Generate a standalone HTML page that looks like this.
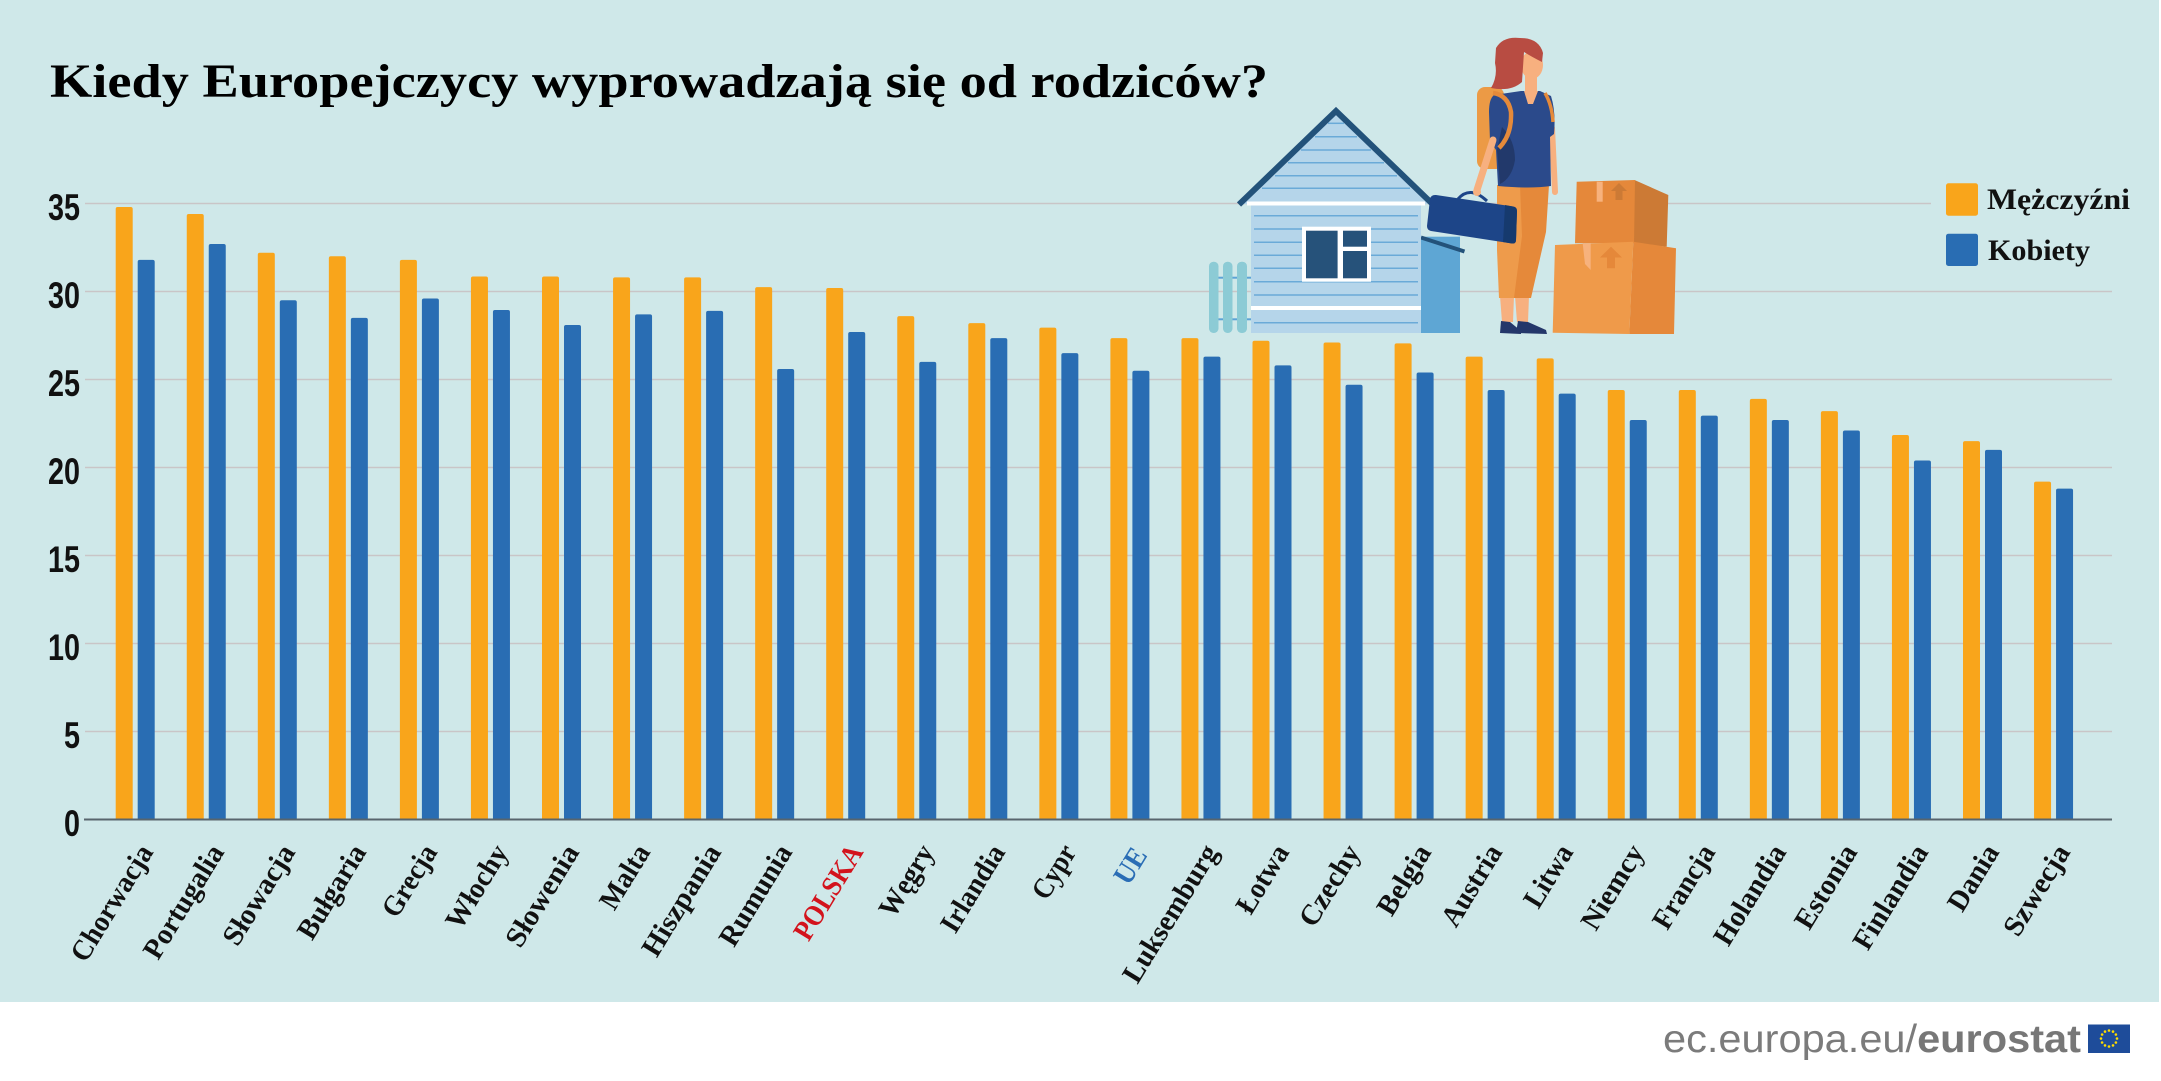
<!DOCTYPE html>
<html><head><meta charset="utf-8"><style>
html,body{margin:0;padding:0;background:#fff;}
svg{display:block;}
</style></head><body>
<svg width="2161" height="1081" viewBox="0 0 2161 1081" xmlns="http://www.w3.org/2000/svg">
<rect width="2161" height="1081" fill="#ffffff"/>
<rect x="0" y="0" width="2159" height="1002" fill="#cfe8e9"/>

<!-- gridlines -->
<g stroke="#c9c5c7" stroke-width="1.5">
<line x1="85" y1="203.5" x2="1931" y2="203.5"/>
<line x1="85" y1="291.5" x2="2112" y2="291.5"/>
<line x1="85" y1="379.5" x2="2112" y2="379.5"/>
<line x1="85" y1="467.5" x2="2112" y2="467.5"/>
<line x1="85" y1="555.5" x2="2112" y2="555.5"/>
<line x1="85" y1="643.5" x2="2112" y2="643.5"/>
<line x1="85" y1="731.5" x2="2112" y2="731.5"/>
</g>

<!-- y tick labels -->
<g font-family="Liberation Sans, Arial, sans-serif" font-weight="bold" font-size="37" fill="#111" text-anchor="end">
<text x="80" y="220" textLength="32" lengthAdjust="spacingAndGlyphs">35</text>
<text x="80" y="308" textLength="32" lengthAdjust="spacingAndGlyphs">30</text>
<text x="80" y="396" textLength="32" lengthAdjust="spacingAndGlyphs">25</text>
<text x="80" y="484" textLength="32" lengthAdjust="spacingAndGlyphs">20</text>
<text x="80" y="572" textLength="32" lengthAdjust="spacingAndGlyphs">15</text>
<text x="80" y="660" textLength="32" lengthAdjust="spacingAndGlyphs">10</text>
<text x="80" y="748" textLength="16" lengthAdjust="spacingAndGlyphs">5</text>
<text x="80" y="836" textLength="16" lengthAdjust="spacingAndGlyphs">0</text>
</g>

<!-- bars: orange (men) -->
<g fill="#f9a51b">
<rect x="115.7" y="207.02" width="17" height="615.98" rx="2"/>
<rect x="186.75" y="214.06" width="17" height="608.94" rx="2"/>
<rect x="257.8" y="252.78" width="17" height="570.22" rx="2"/>
<rect x="328.85" y="256.3" width="17" height="566.7" rx="2"/>
<rect x="399.9" y="259.82" width="17" height="563.18" rx="2"/>
<rect x="470.95" y="276.54" width="17" height="546.46" rx="2"/>
<rect x="542" y="276.54" width="17" height="546.46" rx="2"/>
<rect x="613.05" y="277.42" width="17" height="545.58" rx="2"/>
<rect x="684.1" y="277.42" width="17" height="545.58" rx="2"/>
<rect x="755.15" y="287.1" width="17" height="535.9" rx="2"/>
<rect x="826.2" y="287.98" width="17" height="535.02" rx="2"/>
<rect x="897.25" y="316.14" width="17" height="506.86" rx="2"/>
<rect x="968.3" y="323.18" width="17" height="499.82" rx="2"/>
<rect x="1039.35" y="327.58" width="17" height="495.42" rx="2"/>
<rect x="1110.4" y="338.14" width="17" height="484.86" rx="2"/>
<rect x="1181.45" y="338.14" width="17" height="484.86" rx="2"/>
<rect x="1252.5" y="340.78" width="17" height="482.22" rx="2"/>
<rect x="1323.55" y="342.54" width="17" height="480.46" rx="2"/>
<rect x="1394.6" y="343.42" width="17" height="479.58" rx="2"/>
<rect x="1465.65" y="356.62" width="17" height="466.38" rx="2"/>
<rect x="1536.7" y="358.38" width="17" height="464.62" rx="2"/>
<rect x="1607.75" y="390.06" width="17" height="432.94" rx="2"/>
<rect x="1678.8" y="390.06" width="17" height="432.94" rx="2"/>
<rect x="1749.85" y="398.86" width="17" height="424.14" rx="2"/>
<rect x="1820.9" y="411.18" width="17" height="411.82" rx="2"/>
<rect x="1891.95" y="434.94" width="17" height="388.06" rx="2"/>
<rect x="1963" y="441.1" width="17" height="381.9" rx="2"/>
<rect x="2034.05" y="481.58" width="17" height="341.42" rx="2"/>
</g>
<!-- bars: blue (women) -->
<g fill="#296db3">
<rect x="137.7" y="259.82" width="17" height="563.18" rx="2"/>
<rect x="208.75" y="243.98" width="17" height="579.02" rx="2"/>
<rect x="279.8" y="300.3" width="17" height="522.7" rx="2"/>
<rect x="350.85" y="317.9" width="17" height="505.1" rx="2"/>
<rect x="421.9" y="298.54" width="17" height="524.46" rx="2"/>
<rect x="492.95" y="309.98" width="17" height="513.02" rx="2"/>
<rect x="564" y="324.94" width="17" height="498.06" rx="2"/>
<rect x="635.05" y="314.38" width="17" height="508.62" rx="2"/>
<rect x="706.1" y="310.86" width="17" height="512.14" rx="2"/>
<rect x="777.15" y="368.94" width="17" height="454.06" rx="2"/>
<rect x="848.2" y="331.98" width="17" height="491.02" rx="2"/>
<rect x="919.25" y="361.9" width="17" height="461.1" rx="2"/>
<rect x="990.3" y="338.14" width="17" height="484.86" rx="2"/>
<rect x="1061.35" y="353.1" width="17" height="469.9" rx="2"/>
<rect x="1132.4" y="370.7" width="17" height="452.3" rx="2"/>
<rect x="1203.45" y="356.62" width="17" height="466.38" rx="2"/>
<rect x="1274.5" y="365.42" width="17" height="457.58" rx="2"/>
<rect x="1345.55" y="384.78" width="17" height="438.22" rx="2"/>
<rect x="1416.6" y="372.46" width="17" height="450.54" rx="2"/>
<rect x="1487.65" y="390.06" width="17" height="432.94" rx="2"/>
<rect x="1558.7" y="393.58" width="17" height="429.42" rx="2"/>
<rect x="1629.75" y="419.98" width="17" height="403.02" rx="2"/>
<rect x="1700.8" y="415.58" width="17" height="407.42" rx="2"/>
<rect x="1771.85" y="419.98" width="17" height="403.02" rx="2"/>
<rect x="1842.9" y="430.54" width="17" height="392.46" rx="2"/>
<rect x="1913.95" y="460.46" width="17" height="362.54" rx="2"/>
<rect x="1985" y="449.9" width="17" height="373.1" rx="2"/>
<rect x="2056.05" y="488.62" width="17" height="334.38" rx="2"/>
</g>

<!-- cover bar bottoms (not touching tick labels) -->
<rect x="84" y="820.5" width="2040" height="5" fill="#cfe8e9"/>
<!-- baseline -->
<line x1="84" y1="819.5" x2="2112" y2="819.5" stroke="#58656d" stroke-width="2"/>

<!-- category labels -->
<g font-family="Liberation Serif, DejaVu Serif, serif" font-weight="bold" font-size="29" fill="#111" text-anchor="end">
<text transform="translate(154,852) rotate(-58.5)" textLength="131" lengthAdjust="spacingAndGlyphs">Chorwacja</text>
<text transform="translate(225,852) rotate(-58.5)" textLength="128" lengthAdjust="spacingAndGlyphs">Portugalia</text>
<text transform="translate(296,852) rotate(-58.5)" textLength="112" lengthAdjust="spacingAndGlyphs">Słowacja</text>
<text transform="translate(367,852) rotate(-58.5)" textLength="105" lengthAdjust="spacingAndGlyphs">Bułgaria</text>
<text transform="translate(438,852) rotate(-58.5)" textLength="79" lengthAdjust="spacingAndGlyphs">Grecja</text>
<text transform="translate(509,852) rotate(-58.5)" textLength="93" lengthAdjust="spacingAndGlyphs">Włochy</text>
<text transform="translate(580,852) rotate(-58.5)" textLength="114" lengthAdjust="spacingAndGlyphs">Słowenia</text>
<text transform="translate(651,852) rotate(-58.5)" textLength="70" lengthAdjust="spacingAndGlyphs">Malta</text>
<text transform="translate(722,852) rotate(-58.5)" textLength="125" lengthAdjust="spacingAndGlyphs">Hiszpania</text>
<text transform="translate(793,852) rotate(-58.5)" textLength="113" lengthAdjust="spacingAndGlyphs">Rumunia</text>
<text transform="translate(864,852) rotate(-58.5)" textLength="106" lengthAdjust="spacingAndGlyphs" fill="#d3131c">POLSKA</text>
<text transform="translate(935,852) rotate(-58.5)" textLength="79" lengthAdjust="spacingAndGlyphs">Węgry</text>
<text transform="translate(1006,852) rotate(-58.5)" textLength="97" lengthAdjust="spacingAndGlyphs">Irlandia</text>
<text transform="translate(1077,852) rotate(-58.5)" textLength="58" lengthAdjust="spacingAndGlyphs">Cypr</text>
<text transform="translate(1148,855) rotate(-58.5)" textLength="37" lengthAdjust="spacingAndGlyphs" fill="#2a6db5">UE</text>
<text transform="translate(1219,852) rotate(-58.5)" textLength="156" lengthAdjust="spacingAndGlyphs">Luksemburg</text>
<text transform="translate(1290,852) rotate(-58.5)" textLength="75" lengthAdjust="spacingAndGlyphs">Łotwa</text>
<text transform="translate(1361,852) rotate(-58.5)" textLength="90" lengthAdjust="spacingAndGlyphs">Czechy</text>
<text transform="translate(1432,852) rotate(-58.5)" textLength="77" lengthAdjust="spacingAndGlyphs">Belgia</text>
<text transform="translate(1503,852) rotate(-58.5)" textLength="90" lengthAdjust="spacingAndGlyphs">Austria</text>
<text transform="translate(1574,852) rotate(-58.5)" textLength="68" lengthAdjust="spacingAndGlyphs">Litwa</text>
<text transform="translate(1645,852) rotate(-58.5)" textLength="94" lengthAdjust="spacingAndGlyphs">Niemcy</text>
<text transform="translate(1716,852) rotate(-58.5)" textLength="93" lengthAdjust="spacingAndGlyphs">Francja</text>
<text transform="translate(1787,852) rotate(-58.5)" textLength="112" lengthAdjust="spacingAndGlyphs">Holandia</text>
<text transform="translate(1858,852) rotate(-58.5)" textLength="93" lengthAdjust="spacingAndGlyphs">Estonia</text>
<text transform="translate(1929,852) rotate(-58.5)" textLength="117" lengthAdjust="spacingAndGlyphs">Finlandia</text>
<text transform="translate(2000,852) rotate(-58.5)" textLength="72" lengthAdjust="spacingAndGlyphs">Dania</text>
<text transform="translate(2071,852) rotate(-58.5)" textLength="101" lengthAdjust="spacingAndGlyphs">Szwecja</text>
</g>

<!-- title -->
<text x="50" y="97" font-family="Liberation Serif, DejaVu Serif, serif" font-weight="bold" font-size="48" fill="#000" textLength="1218" lengthAdjust="spacingAndGlyphs">Kiedy Europejczycy wyprowadzają się od rodziców?</text>

<!-- ===== illustration: house ===== -->
<g>
  <g fill="#8ccbd5">
    <rect x="1209" y="261.7" width="9.5" height="71.3" rx="4.5"/>
    <rect x="1223" y="261.7" width="9.5" height="71.3" rx="4.5"/>
    <rect x="1237" y="261.7" width="10" height="71.3" rx="4.5"/>
  </g>
  <g stroke="#5da3d6" stroke-width="2">
    <line x1="1218.5" y1="277.7" x2="1223" y2="277.7"/>
    <line x1="1232.5" y1="277.7" x2="1237" y2="277.7"/>
    <line x1="1247" y1="277.7" x2="1251" y2="277.7"/>
    <line x1="1218.5" y1="319.3" x2="1223" y2="319.3"/>
    <line x1="1232.5" y1="319.3" x2="1237" y2="319.3"/>
    <line x1="1247" y1="319.3" x2="1251" y2="319.3"/>
  </g>
  <rect x="1421" y="236.7" width="39" height="96.3" fill="#5ea6d4"/>
  <line x1="1421" y1="237.5" x2="1464.5" y2="251.5" stroke="#23527a" stroke-width="4"/>
  <polygon points="1336,114 1243,204 1429,204" fill="#b5d5ea"/>
  <rect x="1251" y="204" width="170" height="129" fill="#b5d5ea"/>
  <g stroke="#6aaad8" stroke-width="1.5">
    <line x1="1328" y1="123.3" x2="1344" y2="123.3"/>
    <line x1="1315" y1="136.7" x2="1357" y2="136.7"/>
    <line x1="1301" y1="150" x2="1371" y2="150"/>
    <line x1="1288" y1="162.7" x2="1384" y2="162.7"/>
    <line x1="1275" y1="175.7" x2="1397" y2="175.7"/>
    <line x1="1262" y1="188.3" x2="1410" y2="188.3"/>
    <line x1="1254" y1="215.7" x2="1418" y2="215.7"/>
    <line x1="1254" y1="229" x2="1418" y2="229"/>
    <line x1="1254" y1="242.3" x2="1418" y2="242.3"/>
    <line x1="1254" y1="255.3" x2="1418" y2="255.3"/>
    <line x1="1254" y1="268.3" x2="1418" y2="268.3"/>
    <line x1="1254" y1="281.7" x2="1418" y2="281.7"/>
    <line x1="1254" y1="295" x2="1418" y2="295"/>
    <line x1="1254" y1="322.7" x2="1418" y2="322.7"/>
  </g>
  <rect x="1247" y="201.5" width="178" height="4" fill="#ffffff"/>
  <rect x="1251" y="306" width="170" height="4" fill="#ffffff"/>
  <polyline points="1239,204.5 1336,111 1433,204.5" fill="none" stroke="#23527a" stroke-width="6" stroke-linejoin="miter"/>
  <rect x="1302" y="226.7" width="69" height="55" fill="#ffffff"/>
  <rect x="1306" y="230.7" width="31.6" height="47.6" fill="#26527a"/>
  <rect x="1343" y="230.7" width="24" height="16" fill="#26527a"/>
  <rect x="1343" y="251" width="24" height="27.3" fill="#26527a"/>
</g>

<!-- ===== illustration: woman ===== -->
<g>
  <rect x="1477" y="87" width="27" height="82" rx="8" fill="#ec9a45"/>
  <polygon points="1500,296 1514,296 1513,322 1502,322" fill="#f7b07f"/>
  <polygon points="1515,296 1529,296 1528,322 1517,322" fill="#f7b07f"/>
  <polygon points="1497,185 1526,185 1523,235 1515,298 1499,298 1497,250" fill="#ee9b4b"/>
  <polygon points="1520,185 1549,185 1546,232 1531,298 1514,298 1522,236" fill="#e5893a"/>
  <path d="M1500,333 L1501,321 L1510,322 L1521,331 L1521,334 Z" fill="#24376a"/>
  <path d="M1516,333 L1518,321 L1528,322 L1546,330 L1547,334 Z" fill="#24376a"/>
  <line x1="1552" y1="128" x2="1555" y2="192" stroke="#f7b07f" stroke-width="6" stroke-linecap="round"/>
  <path d="M1494,95 L1521,91 L1540,91 L1551,96 Q1556,112 1554,134 L1550,137 L1551,186 Q1530,189 1498,186 L1496,150 L1490,141 L1489,112 Q1489,99 1494,95 Z" fill="#2b4a8b"/>
  <path d="M1502,127 Q1515,140 1515,160 Q1512,178 1500,184 L1497,150 Z" fill="#22396b"/>
  <polygon points="1524,91 1538,91 1533,104 1528,104" fill="#f7b07f"/>
  <path d="M1493,93 Q1508,95 1511,112 Q1512,135 1499,148" fill="none" stroke="#e58a3a" stroke-width="4.5"/>
  <path d="M1545,93 Q1552,105 1553,122" fill="none" stroke="#e58a3a" stroke-width="3.5"/>
  <line x1="1493" y1="140" x2="1477" y2="190" stroke="#f7b07f" stroke-width="7" stroke-linecap="round"/>
  <rect x="1525" y="76" width="12" height="18" fill="#f7b07f"/>
  <ellipse cx="1532" cy="65" rx="11" ry="14" fill="#f7b07f"/>
  <path d="M1496,48 Q1503,36 1520,38 Q1539,38 1543,53 L1542,62 Q1532,57 1524,52 L1522,82 Q1511,92 1491,88 Q1498,76 1495,63 Z" fill="#b84c42"/>
  <path d="M1458,199 Q1470,185 1487,201" fill="none" stroke="#1d4588" stroke-width="3"/>
  <path d="M1436,195 L1513,206.5 Q1517,207 1517,211 L1516,240 Q1516,244 1512,243.5 L1431,231 Q1427,230 1427,226 L1430,199 Q1431,194.5 1436,195 Z" fill="#1d4588"/>
  <path d="M1505,205 L1513,206.5 Q1517,207 1517,211 L1516,240 Q1516,244 1512,243.5 L1503,242 Z" fill="#163a6e"/>
  <circle cx="1477" cy="192" r="4" fill="#f7b07f"/>
</g>

<!-- ===== boxes ===== -->
<g>
  <polygon points="1634.5,180 1668.3,195 1666.7,246.7 1633.3,243.3" fill="#cc7a35"/>
  <polygon points="1576.7,181.7 1635,180 1634,243.3 1575,243.3" fill="#e5883a"/>
  <rect x="1596.7" y="181.7" width="6" height="20" fill="#f7b27d"/>
  <polygon points="1619,183 1627,191 1622.5,191 1622.5,200 1615.5,200 1615.5,191 1611,191" fill="#cc7a35"/>
  <polygon points="1633.3,241.7 1676,248.3 1674,334 1629.3,334" fill="#e5883a"/>
  <polygon points="1555,245 1633.3,241.7 1629.3,334 1552.7,332.7" fill="#ef9a4a"/>
  <polygon points="1582.7,243.5 1590.7,243.3 1590.7,270 1585,264" fill="#f7b27d"/>
  <polygon points="1611,246.7 1622,257.5 1615,257.5 1615,268.3 1607,268.3 1607,257.5 1600,257.5" fill="#e5883a"/>
</g>

<!-- legend -->
<rect x="1946" y="183.3" width="32" height="32.4" rx="2.5" fill="#f9a51b"/>
<rect x="1946" y="233.7" width="32" height="32.3" rx="2.5" fill="#296db3"/>
<g font-family="Liberation Serif, DejaVu Serif, serif" font-weight="bold" font-size="30" fill="#111">
<text x="1987" y="209" textLength="143" lengthAdjust="spacingAndGlyphs">Mężczyźni</text>
<text x="1988" y="260" textLength="102" lengthAdjust="spacingAndGlyphs">Kobiety</text>
</g>

<!-- footer -->
<text x="1663" y="1052" font-family="Liberation Sans, Arial, sans-serif" font-size="39" fill="#7b7b7b" textLength="418" lengthAdjust="spacingAndGlyphs">ec.europa.eu/<tspan font-weight="bold" fill="#777777">eurostat</tspan></text>
<rect x="2088" y="1024.5" width="42" height="28.5" fill="#1e4c9a"/>
<g fill="#ffdd00">
<circle cx="2109" cy="1030.5" r="1.3"/>
<circle cx="2113" cy="1031.6" r="1.3"/>
<circle cx="2115.9" cy="1034.5" r="1.3"/>
<circle cx="2117" cy="1038.5" r="1.3"/>
<circle cx="2115.9" cy="1042.5" r="1.3"/>
<circle cx="2113" cy="1045.4" r="1.3"/>
<circle cx="2109" cy="1046.5" r="1.3"/>
<circle cx="2105" cy="1045.4" r="1.3"/>
<circle cx="2102.1" cy="1042.5" r="1.3"/>
<circle cx="2101" cy="1038.5" r="1.3"/>
<circle cx="2102.1" cy="1034.5" r="1.3"/>
<circle cx="2105" cy="1031.6" r="1.3"/>
</g>
</svg>
</body></html>
